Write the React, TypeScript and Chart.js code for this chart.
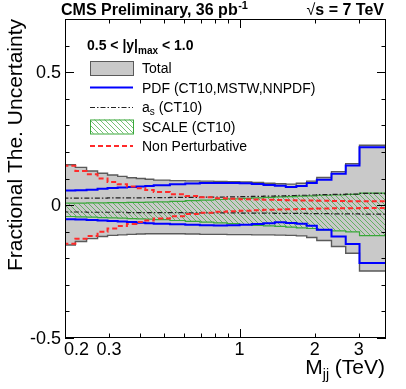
import React, { useEffect, useRef } from 'react';
import { Chart, registerables } from 'chart.js';

Chart.register(...registerables);

// ---------------- data ----------------
const binEdges = [0.197, 0.220, 0.244, 0.270, 0.296, 0.325, 0.354, 0.386, 0.419, 0.453, 0.526, 0.606, 0.693, 0.788, 0.890, 1.000, 1.118, 1.246, 1.383, 1.530, 1.687, 1.856, 2.037, 2.332, 2.659, 3.019, 3.854];

const totalUp = [0.152, 0.142, 0.128, 0.120, 0.113, 0.108, 0.103, 0.100, 0.097, 0.094, 0.092, 0.091, 0.090, 0.089, 0.088, 0.087, 0.085, 0.082, 0.080, 0.079, 0.082, 0.090, 0.104, 0.126, 0.156, 0.225];
const totalLow = [-0.150, -0.137, -0.126, -0.118, -0.114, -0.112, -0.110, -0.109, -0.108, -0.108, -0.108, -0.109, -0.110, -0.110, -0.111, -0.111, -0.112, -0.112, -0.113, -0.114, -0.116, -0.122, -0.133, -0.156, -0.181, -0.248];
const pdfUp = [0.055, 0.056, 0.058, 0.061, 0.064, 0.066, 0.068, 0.070, 0.072, 0.075, 0.078, 0.081, 0.083, 0.083, 0.083, 0.082, 0.079, 0.076, 0.073, 0.068, 0.072, 0.083, 0.095, 0.118, 0.149, 0.218];
const pdfLow = [-0.053, -0.054, -0.056, -0.058, -0.060, -0.062, -0.064, -0.066, -0.068, -0.070, -0.072, -0.074, -0.076, -0.077, -0.076, -0.074, -0.071, -0.068, -0.065, -0.067, -0.070, -0.078, -0.093, -0.118, -0.146, -0.218];
const asUp = [0.026, 0.026, 0.026, 0.026, 0.027, 0.027, 0.027, 0.027, 0.028, 0.028, 0.029, 0.029, 0.030, 0.030, 0.031, 0.032, 0.033, 0.034, 0.035, 0.036, 0.037, 0.038, 0.039, 0.040, 0.041, 0.044];
const asLow = [-0.026, -0.026, -0.027, -0.027, -0.027, -0.027, -0.028, -0.028, -0.028, -0.028, -0.028, -0.029, -0.029, -0.029, -0.029, -0.030, -0.030, -0.030, -0.031, -0.031, -0.031, -0.032, -0.032, -0.033, -0.033, -0.034];
const scaleUp = [0.007, 0.007, 0.008, 0.008, 0.009, 0.009, 0.010, 0.010, 0.011, 0.012, 0.014, 0.017, 0.019, 0.021, 0.023, 0.025, 0.027, 0.029, 0.031, 0.032, 0.034, 0.035, 0.037, 0.038, 0.040, 0.045];
const scaleLow = [-0.043, -0.044, -0.045, -0.047, -0.048, -0.049, -0.051, -0.052, -0.053, -0.055, -0.058, -0.061, -0.064, -0.067, -0.070, -0.073, -0.076, -0.078, -0.080, -0.083, -0.086, -0.088, -0.093, -0.097, -0.101, -0.115];
const npUp = [0.148, 0.128, 0.116, 0.100, 0.087, 0.078, 0.070, 0.063, 0.057, 0.049, 0.041, 0.034, 0.029, 0.026, 0.024, 0.022, 0.021, 0.020, 0.019, 0.018, 0.017, 0.017, 0.016, 0.015, 0.014, 0.014];
const npLow = [-0.145, -0.127, -0.116, -0.100, -0.088, -0.079, -0.071, -0.064, -0.058, -0.050, -0.042, -0.034, -0.029, -0.025, -0.023, -0.021, -0.019, -0.018, -0.017, -0.016, -0.015, -0.014, -0.013, -0.012, -0.012, -0.011];

const xMin = 0.2;
const xMax = 3.854;
const yMin = -0.5;
const yMax = 0.7;

const xTickValues = [0.2, 0.3, 1, 2, 3];
const xTickLabels = ['0.2', '0.3', '1', '2', '3'];
const xMinorTicks = [0.2, 0.3, 0.4, 0.5, 0.6, 0.7, 0.8, 0.9, 2, 3];
const xMajorTicks = [1];
const yTickValues = [-0.5, 0, 0.5];
const yTickLabels = ['-0.5', '0', '0.5'];
const yMinorTicks = [-0.4, -0.3, -0.2, -0.1, 0.1, 0.2, 0.3, 0.4, 0.6];

const titleText = 'CMS Preliminary, 36 pb';
const titleSup = '-1';
const energyText = 's = 7 TeV';
const yTitle = 'Fractional The. Uncertainty';
const xTitleMain = 'M';
const xTitleSub = 'jj';
const xTitleRest = ' (TeV)';
const headerParts = ['0.5 < |y|', 'max', ' < 1.0'];
const labelTotal = 'Total';
const labelPdf = 'PDF (CT10,MSTW,NNPDF)';
const labelAsParts = ['a', 's', ' (CT10)'];
const labelScale = 'SCALE (CT10)';
const labelNp = 'Non Perturbative';

// ---------------- styles ----------------
const FONT = '"Liberation Sans", Arial, Helvetica, sans-serif';
const GREY_FILL = '#c9c9c9';
const GREY_LINE = '#5a5a5a';
const GREEN = '#3aa83a';
const BLUE = '#0000ff';
const RED = '#ff2a2a';
const DASH_DOT = [5, 2, 1.5, 2];
const RED_DASH = [5, 3];

function histPoints(edges: number[], vals: number[]) {
  const pts = vals.map((v, i) => ({ x: edges[i], y: v }));
  pts.push({ x: edges[edges.length - 1], y: vals[vals.length - 1] });
  return pts;
}

function makeHatch(): CanvasPattern | string {
  const pc = document.createElement('canvas');
  pc.width = 5;
  pc.height = 5;
  const p = pc.getContext('2d');
  if (!p) return 'rgba(60,170,60,0.3)';
  p.strokeStyle = 'rgba(50,165,50,0.85)';
  p.lineWidth = 0.8;
  p.beginPath();
  p.moveTo(0, 0); p.lineTo(5, 5);
  p.moveTo(-1, 4); p.lineTo(1, 6);
  p.moveTo(4, -1); p.lineTo(6, 1);
  p.stroke();
  const pat = p.createPattern(pc, 'repeat');
  return pat || 'rgba(60,170,60,0.3)';
}

export default function App() {
  const ref = useRef<HTMLCanvasElement | null>(null);

  useEffect(() => {
    const canvas = ref.current;
    if (!canvas) return;
    const hatch = makeHatch();

    const mk = (vals: number[], opts: any) => ({
      data: histPoints(binEdges, vals),
      stepped: true,
      pointRadius: 0,
      fill: false,
      clip: 0,
      ...opts,
    });

    const overlay = {
      id: 'overlay',
      afterDraw(chart: any) {
        const { ctx, chartArea: ca, scales } = chart;
        const xs = scales.x;
        const ys = scales.y;
        ctx.save();
        // frame
        ctx.strokeStyle = '#000';
        ctx.lineWidth = 1;
        ctx.strokeRect(ca.left + 0.5, ca.top + 0.5, ca.right - ca.left - 1, ca.bottom - ca.top - 1);

        // y ticks (inward, both sides)
        const tick = (x1: number, y1: number, x2: number, y2: number) => {
          ctx.beginPath();
          ctx.moveTo(x1, y1);
          ctx.lineTo(x2, y2);
          ctx.stroke();
        };
        yTickValues.forEach((v) => {
          const y = Math.round(ys.getPixelForValue(v)) + 0.5;
          tick(ca.left, y, ca.left + 9, y);
          tick(ca.right, y, ca.right - 9, y);
        });
        yMinorTicks.forEach((v) => {
          const y = Math.round(ys.getPixelForValue(v)) + 0.5;
          tick(ca.left, y, ca.left + 4.5, y);
          tick(ca.right, y, ca.right - 4.5, y);
        });
        xMinorTicks.forEach((v) => {
          const x = Math.round(xs.getPixelForValue(v)) + 0.5;
          tick(x, ca.bottom, x, ca.bottom - 4.5);
          tick(x, ca.top, x, ca.top + 4.5);
        });
        xMajorTicks.forEach((v) => {
          const x = Math.round(xs.getPixelForValue(v)) + 0.5;
          tick(x, ca.bottom, x, ca.bottom - 9);
          tick(x, ca.top, x, ca.top + 9);
        });

        // tick labels
        ctx.fillStyle = '#000';
        ctx.font = `18px ${FONT}`;
        ctx.textBaseline = 'middle';
        ctx.textAlign = 'right';
        yTickValues.forEach((v, i) => {
          ctx.fillText(yTickLabels[i], ca.left - 4, ys.getPixelForValue(v) + 1);
        });
        ctx.textBaseline = 'alphabetic';
        xTickValues.forEach((v, i) => {
          const x = xs.getPixelForValue(v);
          if (i === 0) {
            ctx.textAlign = 'left';
            ctx.fillText(xTickLabels[i], x - 1, ca.bottom + 17);
          } else {
            ctx.textAlign = 'center';
            ctx.fillText(xTickLabels[i], x, ca.bottom + 17);
          }
        });

        // axis titles
        ctx.font = `21px ${FONT}`;
        ctx.save();
        ctx.translate(22, ca.top);
        ctx.rotate(-Math.PI / 2);
        ctx.textAlign = 'right';
        ctx.fillText(yTitle, 0, 0);
        ctx.restore();

        {
          const right = ca.right - 1;
          const base = 374;
          ctx.font = `21px ${FONT}`;
          const wRest = ctx.measureText(xTitleRest).width;
          ctx.font = `14px ${FONT}`;
          const wSub = ctx.measureText(xTitleSub).width;
          ctx.font = `21px ${FONT}`;
          const wMain = ctx.measureText(xTitleMain).width;
          let x = right - wRest - wSub - wMain;
          ctx.textAlign = 'left';
          ctx.fillText(xTitleMain, x, base);
          x += wMain;
          ctx.font = `14px ${FONT}`;
          ctx.fillText(xTitleSub, x, base + 5);
          x += wSub;
          ctx.font = `21px ${FONT}`;
          ctx.fillText(xTitleRest, x, base);
        }

        // title
        ctx.textAlign = 'left';
        ctx.font = `bold 16px ${FONT}`;
        ctx.fillText(titleText, 61, 15);
        const tw = ctx.measureText(titleText).width;
        ctx.font = `bold 11px ${FONT}`;
        ctx.fillText(titleSup, 61 + tw + 0.5, 9);

        ctx.font = `bold 16px ${FONT}`;
        ctx.textAlign = 'right';
        ctx.fillText(energyText, 384, 15);
        const ew = ctx.measureText(energyText).width;
        ctx.font = `16px ${FONT}`;
        ctx.fillText('\u221A', 384 - ew, 15);

        // legend
        const lx0 = 90;
        const lx1 = 133;
        const tx = 142;
        ctx.textAlign = 'left';
        ctx.font = `bold 14px ${FONT}`;
        let hx = 87;
        ctx.fillText(headerParts[0], hx, 50);
        hx += ctx.measureText(headerParts[0]).width;
        ctx.font = `bold 10px ${FONT}`;
        ctx.fillText(headerParts[1], hx, 54);
        hx += ctx.measureText(headerParts[1]).width;
        ctx.font = `bold 14px ${FONT}`;
        ctx.fillText(headerParts[2], hx, 50);

        const rows = [68, 87.5, 107, 126.5, 146];
        // total box
        ctx.fillStyle = GREY_FILL;
        ctx.fillRect(lx0, rows[0] - 7, lx1 - lx0, 14);
        ctx.strokeStyle = GREY_LINE;
        ctx.lineWidth = 1;
        ctx.strokeRect(lx0 + 0.5, rows[0] - 6.5, lx1 - lx0, 14);
        // pdf line
        ctx.strokeStyle = BLUE;
        ctx.lineWidth = 2;
        tick(lx0, rows[1], lx1, rows[1]);
        // alpha_s
        ctx.strokeStyle = '#222';
        ctx.lineWidth = 1.2;
        ctx.setLineDash(DASH_DOT);
        tick(lx0, rows[2] + 0.5, lx1, rows[2] + 0.5);
        // NP
        ctx.strokeStyle = RED;
        ctx.lineWidth = 2;
        ctx.setLineDash(RED_DASH);
        tick(lx0, rows[4], lx1, rows[4]);
        ctx.setLineDash([]);
        // scale box
        ctx.fillStyle = hatch as any;
        ctx.fillRect(lx0, rows[3] - 7, lx1 - lx0, 14);
        ctx.strokeStyle = GREEN;
        ctx.lineWidth = 1;
        ctx.strokeRect(lx0 + 0.5, rows[3] - 6.5, lx1 - lx0, 14);

        ctx.fillStyle = '#000';
        ctx.font = `14px ${FONT}`;
        ctx.fillText(labelTotal, tx, rows[0] + 5);
        ctx.fillText(labelPdf, tx, rows[1] + 5);
        let ax = tx;
        ctx.fillText(labelAsParts[0], ax, rows[2] + 5);
        ax += ctx.measureText(labelAsParts[0]).width;
        ctx.font = `10px ${FONT}`;
        ctx.fillText(labelAsParts[1], ax, rows[2] + 8);
        ax += ctx.measureText(labelAsParts[1]).width;
        ctx.font = `14px ${FONT}`;
        ctx.fillText(labelAsParts[2], ax, rows[2] + 5);
        ctx.fillText(labelScale, tx, rows[3] + 5);
        ctx.fillText(labelNp, tx, rows[4] + 5);

        ctx.restore();
      },
    };

    const chart = new Chart(canvas, {
      type: 'line',
      data: {
        datasets: [
          mk(npUp, { borderColor: RED, borderWidth: 2, borderDash: RED_DASH, order: 1 }),
          mk(npLow, { borderColor: RED, borderWidth: 2, borderDash: RED_DASH, order: 2 }),
          mk(asUp, { borderColor: '#222', borderWidth: 1.2, borderDash: DASH_DOT, order: 3 }),
          mk(asLow, { borderColor: '#222', borderWidth: 1.2, borderDash: DASH_DOT, order: 4 }),
          mk(pdfUp, { borderColor: BLUE, borderWidth: 2, order: 5 }),
          mk(pdfLow, { borderColor: BLUE, borderWidth: 2, order: 6 }),
          mk(scaleUp, { borderColor: GREEN, borderWidth: 1.2, fill: '+1', backgroundColor: hatch, order: 8 }),
          mk(scaleLow, { borderColor: GREEN, borderWidth: 1.2, order: 7 }),
          mk(totalUp, { borderColor: GREY_LINE, borderWidth: 1.4, fill: '+1', backgroundColor: GREY_FILL, order: 10 }),
          mk(totalLow, { borderColor: GREY_LINE, borderWidth: 1.4, order: 9 }),
        ] as any,
      },
      options: {
        animation: false,
        responsive: false,
        maintainAspectRatio: false,
        devicePixelRatio: 1,
        layout: { padding: { left: 65, right: 20, top: 19, bottom: 51 } },
        plugins: { legend: { display: false }, tooltip: { enabled: false } },
        elements: { point: { radius: 0 }, line: { tension: 0 } },
        scales: {
          x: { type: 'logarithmic', min: xMin, max: xMax, display: false },
          y: { type: 'linear', min: yMin, max: yMax, display: false },
        },
      } as any,
      plugins: [overlay],
    });

    return () => chart.destroy();
  }, []);

  return (
    <div style={{ position: 'fixed', left: 0, top: 0, width: 406, height: 389, background: '#fff' }}>
      <canvas ref={ref} width={406} height={389} style={{ display: 'block', width: '406px', height: '389px' }} />
    </div>
  );
}
